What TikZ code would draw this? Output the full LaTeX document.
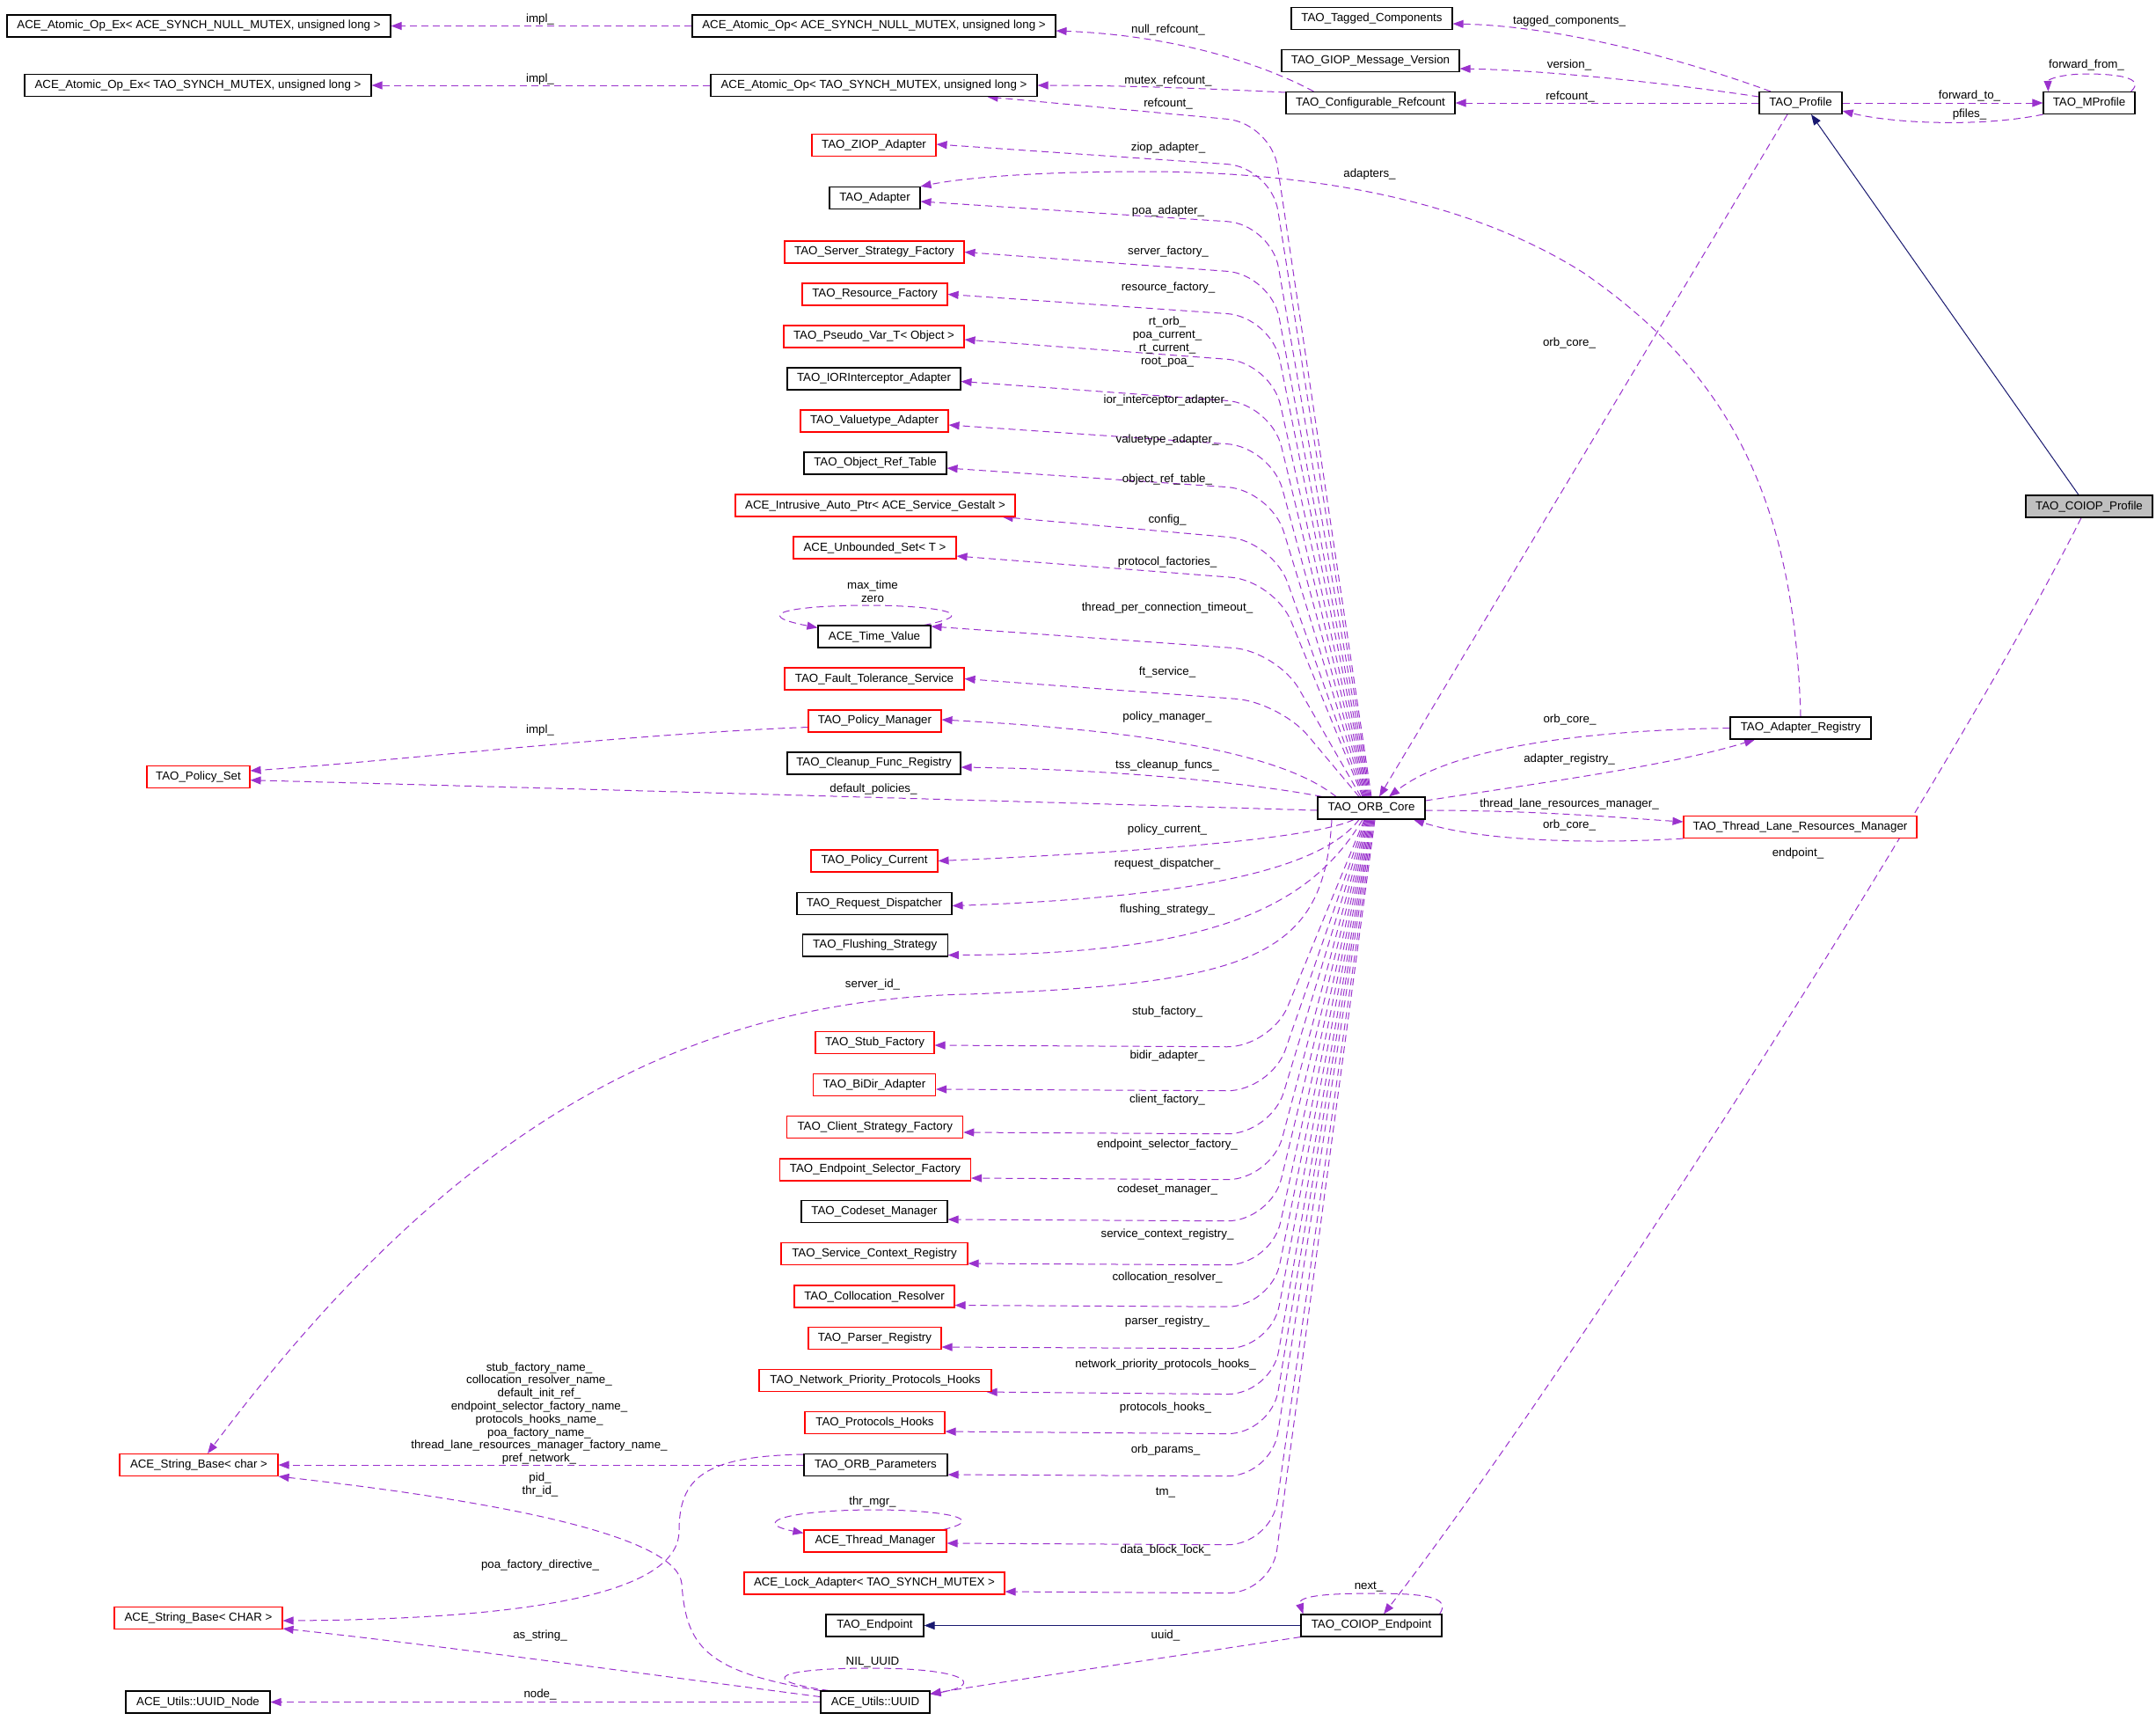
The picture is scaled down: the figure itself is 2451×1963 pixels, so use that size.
\documentclass[tikz,border=0pt]{standalone}
\usepackage{fontspec}
\setmainfont{Liberation Sans}
\usetikzlibrary{arrows.meta}
\definecolor{dorchid}{HTML}{9A32CD}
\definecolor{mblue}{HTML}{191970}
\definecolor{selgrey}{HTML}{BFBFBF}
\newcommand\dxfont{\fontsize{13.3}{14.8}\selectfont}
\pgfdeclarelayer{bg}
\pgfsetlayers{bg,main}
\begin{document}
\begin{tikzpicture}[x=1pt,y=-1pt,
  box/.style={draw=black, fill=white, line width=1.1pt, inner sep=0pt, minimum height=25pt, font=\dxfont},
  redbox/.style={box, draw=red},
  selbox/.style={box, fill=selgrey},
  dep/.style={draw=dorchid, line width=1pt, dash pattern=on 8pt off 5pt, -{Triangle[length=12pt,width=9pt]}},
  fan/.style={dep, rounded corners=50pt},
  inh/.style={draw=mblue, line width=1pt, -{Triangle[length=12pt,width=9pt]}},
  lab/.style={font=\dxfont, inner sep=0pt, align=center},
]
\useasboundingbox (0,0) rectangle (2451,1963);
% ---------------- nodes
\node[box, minimum width=436pt] (aopexnull) at (226,29.5) {ACE\_Atomic\_Op\_Ex< ACE\_SYNCH\_NULL\_MUTEX, unsigned long >};
\node[box, minimum width=394pt] (aopextao) at (225,97) {ACE\_Atomic\_Op\_Ex< TAO\_SYNCH\_MUTEX, unsigned long >};
\node[box, minimum width=413pt] (aopnull) at (993.5,29.5) {ACE\_Atomic\_Op< ACE\_SYNCH\_NULL\_MUTEX, unsigned long >};
\node[box, minimum width=371pt] (aoptao) at (993.5,97) {ACE\_Atomic\_Op< TAO\_SYNCH\_MUTEX, unsigned long >};
\node[redbox, minimum width=141pt] (ziop) at (993.5,165) {TAO\_ZIOP\_Adapter};
\node[box, minimum width=103pt] (adapter) at (994.5,225) {TAO\_Adapter};
\node[redbox, minimum width=204pt] (ssf) at (994,286.5) {TAO\_Server\_Strategy\_Factory};
\node[redbox, minimum width=165pt] (resf) at (994.5,334.5) {TAO\_Resource\_Factory};
\node[redbox, minimum width=205pt] (pseudo) at (993.5,382.5) {TAO\_Pseudo\_Var\_T< Object >};
\node[box, minimum width=197pt] (iorint) at (993.5,430.5) {TAO\_IORInterceptor\_Adapter};
\node[redbox, minimum width=168pt] (valuetype) at (994,478.5) {TAO\_Valuetype\_Adapter};
\node[box, minimum width=162pt] (objref) at (995,526.5) {TAO\_Object\_Ref\_Table};
\node[redbox, minimum width=318pt] (intrusive) at (995,574.5) {ACE\_Intrusive\_Auto\_Ptr< ACE\_Service\_Gestalt >};
\node[redbox, minimum width=185pt] (unbounded) at (994.5,622.5) {ACE\_Unbounded\_Set< T >};
\node[box, minimum width=128pt] (timevalue) at (994,723.5) {ACE\_Time\_Value};
\node[redbox, minimum width=204pt] (ft) at (994,771.5) {TAO\_Fault\_Tolerance\_Service};
\node[redbox, minimum width=151pt] (polmgr) at (994.5,819.5) {TAO\_Policy\_Manager};
\node[box, minimum width=197pt] (cleanup) at (993.5,867.5) {TAO\_Cleanup\_Func\_Registry};
\node[box, minimum width=122pt] (orb) at (1559,918.5) {TAO\_ORB\_Core};
\node[redbox, minimum width=144pt] (polcur) at (994,978.5) {TAO\_Policy\_Current};
\node[box, minimum width=176pt] (reqdisp) at (994,1027) {TAO\_Request\_Dispatcher};
\node[box, minimum width=165pt] (flush) at (994.7,1074.5) {TAO\_Flushing\_Strategy};
\node[redbox, minimum width=135pt] (stub) at (994.5,1185) {TAO\_Stub\_Factory};
\node[redbox, minimum width=139pt] (bidir) at (994,1233) {TAO\_BiDir\_Adapter};
\node[redbox, minimum width=200pt] (csf) at (994.7,1281) {TAO\_Client\_Strategy\_Factory};
\node[redbox, minimum width=217pt] (esf) at (995,1329.5) {TAO\_Endpoint\_Selector\_Factory};
\node[box, minimum width=166pt] (codeset) at (994,1377) {TAO\_Codeset\_Manager};
\node[redbox, minimum width=212pt] (scr) at (994,1425) {TAO\_Service\_Context\_Registry};
\node[redbox, minimum width=182pt] (coll) at (994,1473.5) {TAO\_Collocation\_Resolver};
\node[redbox, minimum width=151pt] (parser) at (994.5,1521) {TAO\_Parser\_Registry};
\node[redbox, minimum width=264pt] (nph) at (995,1569) {TAO\_Network\_Priority\_Protocols\_Hooks};
\node[redbox, minimum width=159pt] (ph) at (994.5,1617) {TAO\_Protocols\_Hooks};
\node[box, minimum width=163pt] (orbparams) at (995.5,1665) {TAO\_ORB\_Parameters};
\node[redbox, minimum width=162pt] (thrmgr) at (995,1751.5) {ACE\_Thread\_Manager};
\node[redbox, minimum width=296pt] (lock) at (994,1799.5) {ACE\_Lock\_Adapter< TAO\_SYNCH\_MUTEX >};
\node[box, minimum width=111pt] (endpoint) at (994.5,1847.5) {TAO\_Endpoint};
\node[box, minimum width=160pt] (coiopep) at (1559,1847.5) {TAO\_COIOP\_Endpoint};
\node[box, minimum width=124pt] (uuid) at (995,1934.5) {ACE\_Utils::UUID};
\node[box, minimum width=164pt] (uuidnode) at (225,1934.5) {ACE\_Utils::UUID\_Node};
\node[redbox, minimum width=180pt] (sbchar) at (226,1665) {ACE\_String\_Base< char >};
\node[redbox, minimum width=191pt] (sbCHAR) at (225.5,1839) {ACE\_String\_Base< CHAR >};
\node[redbox, minimum width=117pt] (polset) at (225.5,883) {TAO\_Policy\_Set};
\node[box, minimum width=160pt] (adreg) at (2047,827.5) {TAO\_Adapter\_Registry};
\node[redbox, minimum width=265pt] (tlrm) at (2046.5,940) {TAO\_Thread\_Lane\_Resources\_Manager};
\node[selbox, minimum width=144pt] (coiopprof) at (2375,575.5) {TAO\_COIOP\_Profile};
\node[box, minimum width=94pt] (profile) at (2047,117) {TAO\_Profile};
\node[box, minimum width=104pt] (mprofile) at (2375,117) {TAO\_MProfile};
\node[box, minimum width=183pt] (tagged) at (1559.5,21) {TAO\_Tagged\_Components};
\node[box, minimum width=202pt] (giop) at (1558,69) {TAO\_GIOP\_Message\_Version};
\node[box, minimum width=192pt] (cfgref) at (1558,117) {TAO\_Configurable\_Refcount};
% ---------------- labels
\node[lab] (l01) at (614,22) {impl\_};
\node[lab] (l02) at (614,90) {impl\_};
\node[lab] (l03) at (1328,34) {null\_refcount\_};
\node[lab] (l04) at (1328,92) {mutex\_refcount\_};
\node[lab] (l05) at (1328,118) {refcount\_};
\node[lab] (l06) at (1328,168) {ziop\_adapter\_};
\node[lab] (l07) at (1557,198) {adapters\_};
\node[lab] (l08) at (1328,240) {poa\_adapter\_};
\node[lab] (l09) at (1328,286) {server\_factory\_};
\node[lab] (l10) at (1328,327) {resource\_factory\_};
\node[lab] (l11) at (1327,388.5) {rt\_orb\_\\poa\_current\_\\rt\_current\_\\root\_poa\_};
\node[lab] (l12) at (1327,455) {ior\_interceptor\_adapter\_};
\node[lab] (l13) at (1327,500) {valuetype\_adapter\_};
\node[lab] (l14) at (1327,545.4) {object\_ref\_table\_};
\node[lab] (l15) at (1327,591) {config\_};
\node[lab] (l16) at (1327,638.7) {protocol\_factories\_};
\node[lab] (l17) at (992,672.5) {max\_time\\zero};
\node[lab] (l18) at (1327,691) {thread\_per\_connection\_timeout\_};
\node[lab] (l19) at (1327,763.5) {ft\_service\_};
\node[lab] (l20) at (1327,815) {policy\_manager\_};
\node[lab] (l21) at (1327,870.5) {tss\_cleanup\_funcs\_};
\node[lab] (l22) at (614,830) {impl\_};
\node[lab] (l23) at (993,897.4) {default\_policies\_};
\node[lab] (l24) at (1327,943) {policy\_current\_};
\node[lab] (l25) at (1327,982) {request\_dispatcher\_};
\node[lab] (l26) at (1327,1034.5) {flushing\_strategy\_};
\node[lab] (l27) at (992,1118.6) {server\_id\_};
\node[lab] (l28) at (1327,1150) {stub\_factory\_};
\node[lab] (l29) at (1327,1200) {bidir\_adapter\_};
\node[lab] (l30) at (1327,1250.5) {client\_factory\_};
\node[lab] (l31) at (1327,1301.5) {endpoint\_selector\_factory\_};
\node[lab] (l32) at (1327,1351.6) {codeset\_manager\_};
\node[lab] (l33) at (1327,1402.6) {service\_context\_registry\_};
\node[lab] (l34) at (1327,1451.6) {collocation\_resolver\_};
\node[lab] (l35) at (1327,1502) {parser\_registry\_};
\node[lab] (l36) at (1325,1550.6) {network\_priority\_protocols\_hooks\_};
\node[lab] (l37) at (1325,1600) {protocols\_hooks\_};
\node[lab] (l38) at (1325,1648) {orb\_params\_};
\node[lab] (l39) at (1325,1696) {tm\_};
\node[lab] (l40) at (1325,1762) {data\_block\_lock\_};
\node[lab] (l41) at (613,1606.5) {stub\_factory\_name\_\\collocation\_resolver\_name\_\\default\_init\_ref\_\\endpoint\_selector\_factory\_name\_\\protocols\_hooks\_name\_\\poa\_factory\_name\_\\thread\_lane\_resources\_manager\_factory\_name\_\\pref\_network\_};
\node[lab] (l42) at (614,1687.5) {pid\_\\thr\_id\_};
\node[lab] (l43) at (614,1779) {poa\_factory\_directive\_};
\node[lab] (l44) at (614,1859) {as\_string\_};
\node[lab] (l45) at (992,1889) {NIL\_UUID};
\node[lab] (l46) at (614,1926) {node\_};
\node[lab] (l47) at (992,1707) {thr\_mgr\_};
\node[lab] (l48) at (1325,1859) {uuid\_};
\node[lab] (l49) at (1556,1803) {next\_};
\node[lab] (l50) at (1784,390) {orb\_core\_};
\node[lab] (l51) at (1784,24) {tagged\_components\_};
\node[lab] (l52) at (1784,74) {version\_};
\node[lab] (l53) at (1785,110) {refcount\_};
\node[lab] (l54) at (2239,109) {forward\_to\_};
\node[lab] (l55) at (2239,130) {pfiles\_};
\node[lab] (l56) at (2372,74) {forward\_from\_};
\node[lab] (l57) at (1784.5,818) {orb\_core\_};
\node[lab] (l58) at (1784,863) {adapter\_registry\_};
\node[lab] (l59) at (1784,913.6) {thread\_lane\_resources\_manager\_};
\node[lab] (l60) at (1784,938) {orb\_core\_};
\node[lab] (l61) at (2044,970) {endpoint\_};
% ---------------- edges
\begin{pgfonlayer}{bg}
\fill[white] (0,0) rectangle (2451,1963);
% top
\draw[dep] (aopnull) -- (aopexnull);
\draw[dep] (aoptao) -- (aopextao);
\draw[dep] ([xshift=32pt]cfgref.north west) .. controls (1430,70) and (1330,40) .. ([yshift=-5.5pt]aopnull.east);
\draw[dep] ([yshift=12pt]cfgref.west) .. controls (1380,101) and (1280,97) .. (aoptao.east);
% ORB upper fan
\draw[fan] (orb.north) -- (1445,140) -- ([xshift=-57pt]aoptao.south east);
\draw[fan] ([xshift=-1pt]orb.north) -- (1445,190) -- ([yshift=1pt]ziop.east);
\draw[fan] ([xshift=-2pt]orb.north) -- (1445,255) -- ([yshift=-4pt]adapter.east);
\draw[fan] ([xshift=-3pt]orb.north) -- (1445,312) -- (ssf.east);
\draw[fan] ([xshift=-4pt]orb.north) -- (1445,360) -- (resf.east);
\draw[fan] ([xshift=-5pt]orb.north) -- (1445,412) -- ([yshift=-3.5pt]pseudo.east);
\draw[fan] ([xshift=-6pt]orb.north) -- (1445,459) -- ([yshift=-3pt]iorint.east);
\draw[fan] ([xshift=-7pt]orb.north) -- (1445,508) -- ([yshift=-4.5pt]valuetype.east);
\draw[fan] ([xshift=-8pt]orb.north) -- (1445,557) -- ([yshift=-5.5pt]objref.east);
\draw[fan] ([xshift=-9pt]orb.north) -- (1447,615) -- ([xshift=-15pt]intrusive.south east);
\draw[fan] ([xshift=-10pt]orb.north) -- (1449,660) -- ([yshift=-9.5pt]unbounded.east);
\draw[fan] ([xshift=-12pt]orb.north) -- (1452,740) -- ([yshift=-1.5pt]timevalue.north east);
\draw[fan] ([xshift=-14pt]orb.north) -- (1455,798) -- (ft.east);
\draw[dep] ([xshift=-40pt]orb.north) .. controls (1480,875) and (1390,835) .. ([yshift=1.5pt]polmgr.east);
\draw[dep] ([xshift=-56pt]orb.north) .. controls (1450,895) and (1300,875) .. ([yshift=-4.5pt]cleanup.east);
% ORB lower fan
\draw[dep] ([xshift=-20pt]orb.south) .. controls (1500,950) and (1350,966) .. (polcur.east);
\draw[dep] ([xshift=-14pt]orb.south) .. controls (1500,990) and (1350,1020) .. ([yshift=-2.5pt]reqdisp.east);
\draw[dep] ([xshift=-10pt]orb.south) .. controls (1490,1030) and (1380,1085) .. ([yshift=-11pt]flush.east);
\draw[fan] ([xshift=-8pt]orb.south) -- (1445,1190) -- ([yshift=-3pt]stub.east);
\draw[fan] ([xshift=-7pt]orb.south) -- (1445,1240) -- ([yshift=-5pt]bidir.east);
\draw[fan] ([xshift=-6pt]orb.south) -- (1445,1289) -- ([yshift=-6pt]csf.east);
\draw[fan] ([xshift=-5pt]orb.south) -- (1445,1341) -- ([yshift=-9.5pt]esf.east);
\draw[fan] ([xshift=-4pt]orb.south) -- (1445,1388) -- ([yshift=-9pt]codeset.east);
\draw[fan] ([xshift=-3pt]orb.south) -- (1445,1438) -- ([yshift=-11pt]scr.east);
\draw[fan] ([xshift=-2pt]orb.south) -- (1445,1485.5) -- ([yshift=-10pt]coll.east);
\draw[fan] ([xshift=-1pt]orb.south) -- (1445,1533) -- ([yshift=-10pt]parser.east);
\draw[fan] (orb.south) -- (1445,1585) -- ([xshift=-6pt]nph.south east);
\draw[fan] ([xshift=1pt]orb.south) -- (1445,1630) -- ([yshift=-10pt]ph.east);
\draw[fan] ([xshift=2pt]orb.south) -- (1445,1678) -- ([yshift=-11pt]orbparams.east);
\draw[fan] ([xshift=3pt]orb.south) -- (1445,1756) -- ([yshift=-2.5pt]thrmgr.east);
\draw[fan] ([xshift=4pt]orb.south) -- (1445,1811) -- ([yshift=-9.5pt]lock.east);
% policy set
\draw[dep] ([yshift=-7pt]polmgr.west) .. controls (700,835) and (450,865) .. ([yshift=7pt]polset.east);
\draw[dep] ([yshift=-2.5pt]orb.west) .. controls (1200,912) and (600,895) .. ([yshift=-3.7pt]polset.east);
% server id
\draw[dep] ([xshift=-45pt]orb.south) .. controls (1505,1085) and (1430,1118) .. (1100,1130) .. controls (760,1137) and (500,1300) .. ([xshift=10pt]sbchar.north);
% string bases
\draw[dep] (orbparams.west) -- (sbchar.east);
\draw[dep] ([yshift=12pt]orbparams.west) .. controls (800,1655) and (772,1680) .. (772,1740) .. controls (772,1800) and (650,1840) .. ([yshift=-3pt]sbCHAR.east);
\draw[dep] (uuid.north west) .. controls (800,1900) and (780,1870) .. (775,1800) .. controls (770,1750) and (600,1710) .. (sbchar.south east);
\draw[dep] ([yshift=6pt]uuid.west) .. controls (750,1905) and (500,1870) .. ([yshift=-12pt]sbCHAR.east);
\draw[dep] (uuid.west) -- (uuidnode.east);
\draw[dep] ([xshift=10pt]uuid.north west) .. controls (860,1910) and (880,1896) .. (990,1896) .. controls (1100,1896) and (1120,1915) .. ([yshift=9pt]uuid.east);
% endpoints
\draw[dep] (coiopep.south west) .. controls (1350,1880) and (1150,1910) .. ([yshift=9.5pt]uuid.east);
\draw[inh] (coiopep) -- (endpoint);
\draw[dep] ([xshift=-3pt]coiopep.north east) .. controls (1650,1815) and (1620,1811) .. (1560,1811) .. controls (1500,1811) and (1475,1815) .. ([xshift=3pt]coiopep.north west);
\draw[dep] ([xshift=-9pt]coiopprof.south) .. controls (2216,888) and (1773,1577) .. ([xshift=14pt]coiopep.north);
\draw[inh] ([xshift=-12pt]coiopprof.north) -- ([xshift=12pt]profile.south);
% profile and registries
\draw[dep] ([xshift=-15pt]profile.south) -- ([xshift=9pt]orb.north);
\draw[dep] (adreg.west) .. controls (1800,830) and (1650,850) .. ([xshift=20pt]orb.north);
\draw[dep] ([yshift=8.5pt]orb.east) .. controls (1750,890) and (1900,870) .. ([xshift=-52pt]adreg.south);
\draw[dep] ([yshift=-2.5pt]orb.east) .. controls (1750,921) and (1850,930) .. ([yshift=6pt]tlrm.west);
\draw[dep] (tlrm.south west) .. controls (1800,960) and (1680,955) .. ([xshift=48pt]orb.south);
\draw[dep] (adreg.north) .. controls (2040,560) and (1960,420) .. (1800,310) .. controls (1650,215) and (1450,195) .. (1300,195) .. controls (1170,195) and (1090,203) .. (adapter.north east);
\draw[dep] ([xshift=-34pt]profile.north) .. controls (1920,70) and (1780,30) .. ([yshift=-6pt]tagged.east);
\draw[dep] ([yshift=7pt]profile.west) .. controls (1900,95) and (1760,80) .. ([yshift=-9pt]giop.east);
\draw[dep] (profile.west) -- (cfgref.east);
\draw[dep] (profile.east) -- (mprofile.west);
\draw[dep] (mprofile.south west) .. controls (2250,145) and (2150,140) .. ([yshift=-9pt]profile.east);
\draw[dep] ([xshift=-5pt]mprofile.north east) .. controls (2440,88) and (2405,84) .. (2372,84) .. controls (2345,84) and (2328,90) .. ([xshift=6pt]mprofile.north west);
% self loops
\draw[dep] ([xshift=-8pt]timevalue.north east) .. controls (1130,695) and (1040,688) .. (990,688) .. controls (900,688) and (850,698) .. ([yshift=-3pt]timevalue.north west);
\draw[dep] ([xshift=-4pt]thrmgr.north east) .. controls (1130,1725) and (1060,1716) .. (995,1716) .. controls (900,1716) and (850,1730) .. ([yshift=-4pt]thrmgr.north west);
\end{pgfonlayer}
\end{tikzpicture}
\end{document}
